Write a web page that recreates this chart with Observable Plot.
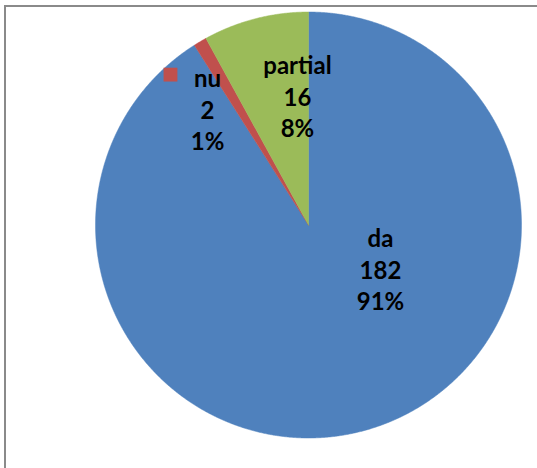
<!DOCTYPE html>
<html>
<head>
<meta charset="utf-8">
<script src="https://cdn.jsdelivr.net/npm/d3@7"></script>
<script src="https://cdn.jsdelivr.net/npm/@observablehq/plot@0.6"></script>
<style>
  html, body { margin: 0; padding: 0; background: #fff; }
  #wrap { position: relative; width: 537px; height: 468px; overflow: hidden; }
  #wrap svg { position: absolute; left: 0; top: 0; }
  #frame { position: absolute; left: 4px; top: 5px; width: 600px; height: 600px;
           border-left: 2px solid #8a8a8a; border-top: 2px solid #8a8a8a; }
</style>
</head>
<body>
<div id="wrap"><div id="frame"></div></div>
<script>
// Data
const categories = ["da", "nu", "partial"];
const values = [182, 2, 16];
const colors = ["#4F81BD", "#C0504D", "#9BBB59"];

// Layout (unit-circle coordinates of label block centres, chosen by the chart's label placement)
const labelLayout = {
  da: [0.338, -0.204],
  nu: [-0.474, 0.547],
  partial: [-0.052, 0.608]
};
const legendKeyOffset = [-0.174, 0.159]; // key square offset from "nu" label centre

const total = d3.sum(values);
const arcs = d3.pie().sort(null).value(d => d.value)(
  categories.map((c, i) => ({key: c, value: values[i]}))
);

// Polygon vertices for each slice, in unit coordinates (y up)
const pts = [];
for (const a of arcs) {
  const k = a.data.key;
  pts.push({key: k, x: 0, y: 0});
  const n = Math.max(2, Math.ceil((a.endAngle - a.startAngle) / (Math.PI / 720)));
  for (let j = 0; j <= n; j++) {
    const t = a.startAngle + (a.endAngle - a.startAngle) * j / n;
    pts.push({key: k, x: Math.sin(t), y: Math.cos(t)});
  }
  pts.push({key: k, x: 0, y: 0});
}

const labels = arcs.map(a => ({
  key: a.data.key,
  x: labelLayout[a.data.key][0],
  y: labelLayout[a.data.key][1],
  text: `${a.data.key}\n${a.data.value}\n${Math.round(a.data.value / total * 100)}%`
}));

const key = labels.filter(d => d.key === "nu").map(d => ({
  key: d.key, x: d.x + legendKeyOffset[0], y: d.y + legendKeyOffset[1]
}));

const chart = Plot.plot({
  width: 537,
  height: 468,
  margin: 0,
  style: {background: "transparent"},
  x: {domain: [-1, 1], range: [95, 521], axis: null},
  y: {domain: [-1, 1], range: [437.5, 11.5], axis: null},
  color: {domain: categories, range: colors},
  marks: [
    Plot.line(pts, {x: "x", y: "y", z: "key", fill: "key", stroke: "key", strokeWidth: 0.5, curve: "linear"}),
    Plot.dot(key, {x: "x", y: "y", fill: "key", symbol: "square", r: 7.8, stroke: null}),
    Plot.text(labels, {
      x: "x", y: "y", text: "text",
      fontFamily: "Lato, 'Open Sans', sans-serif",
      fontWeight: "bold",
      fontSize: 24,
      lineHeight: 1.32,
      fill: "#000",
      textAnchor: "middle"
    })
  ]
});
document.getElementById("wrap").insertBefore(chart, document.getElementById("frame"));
</script>
</body>
</html>
